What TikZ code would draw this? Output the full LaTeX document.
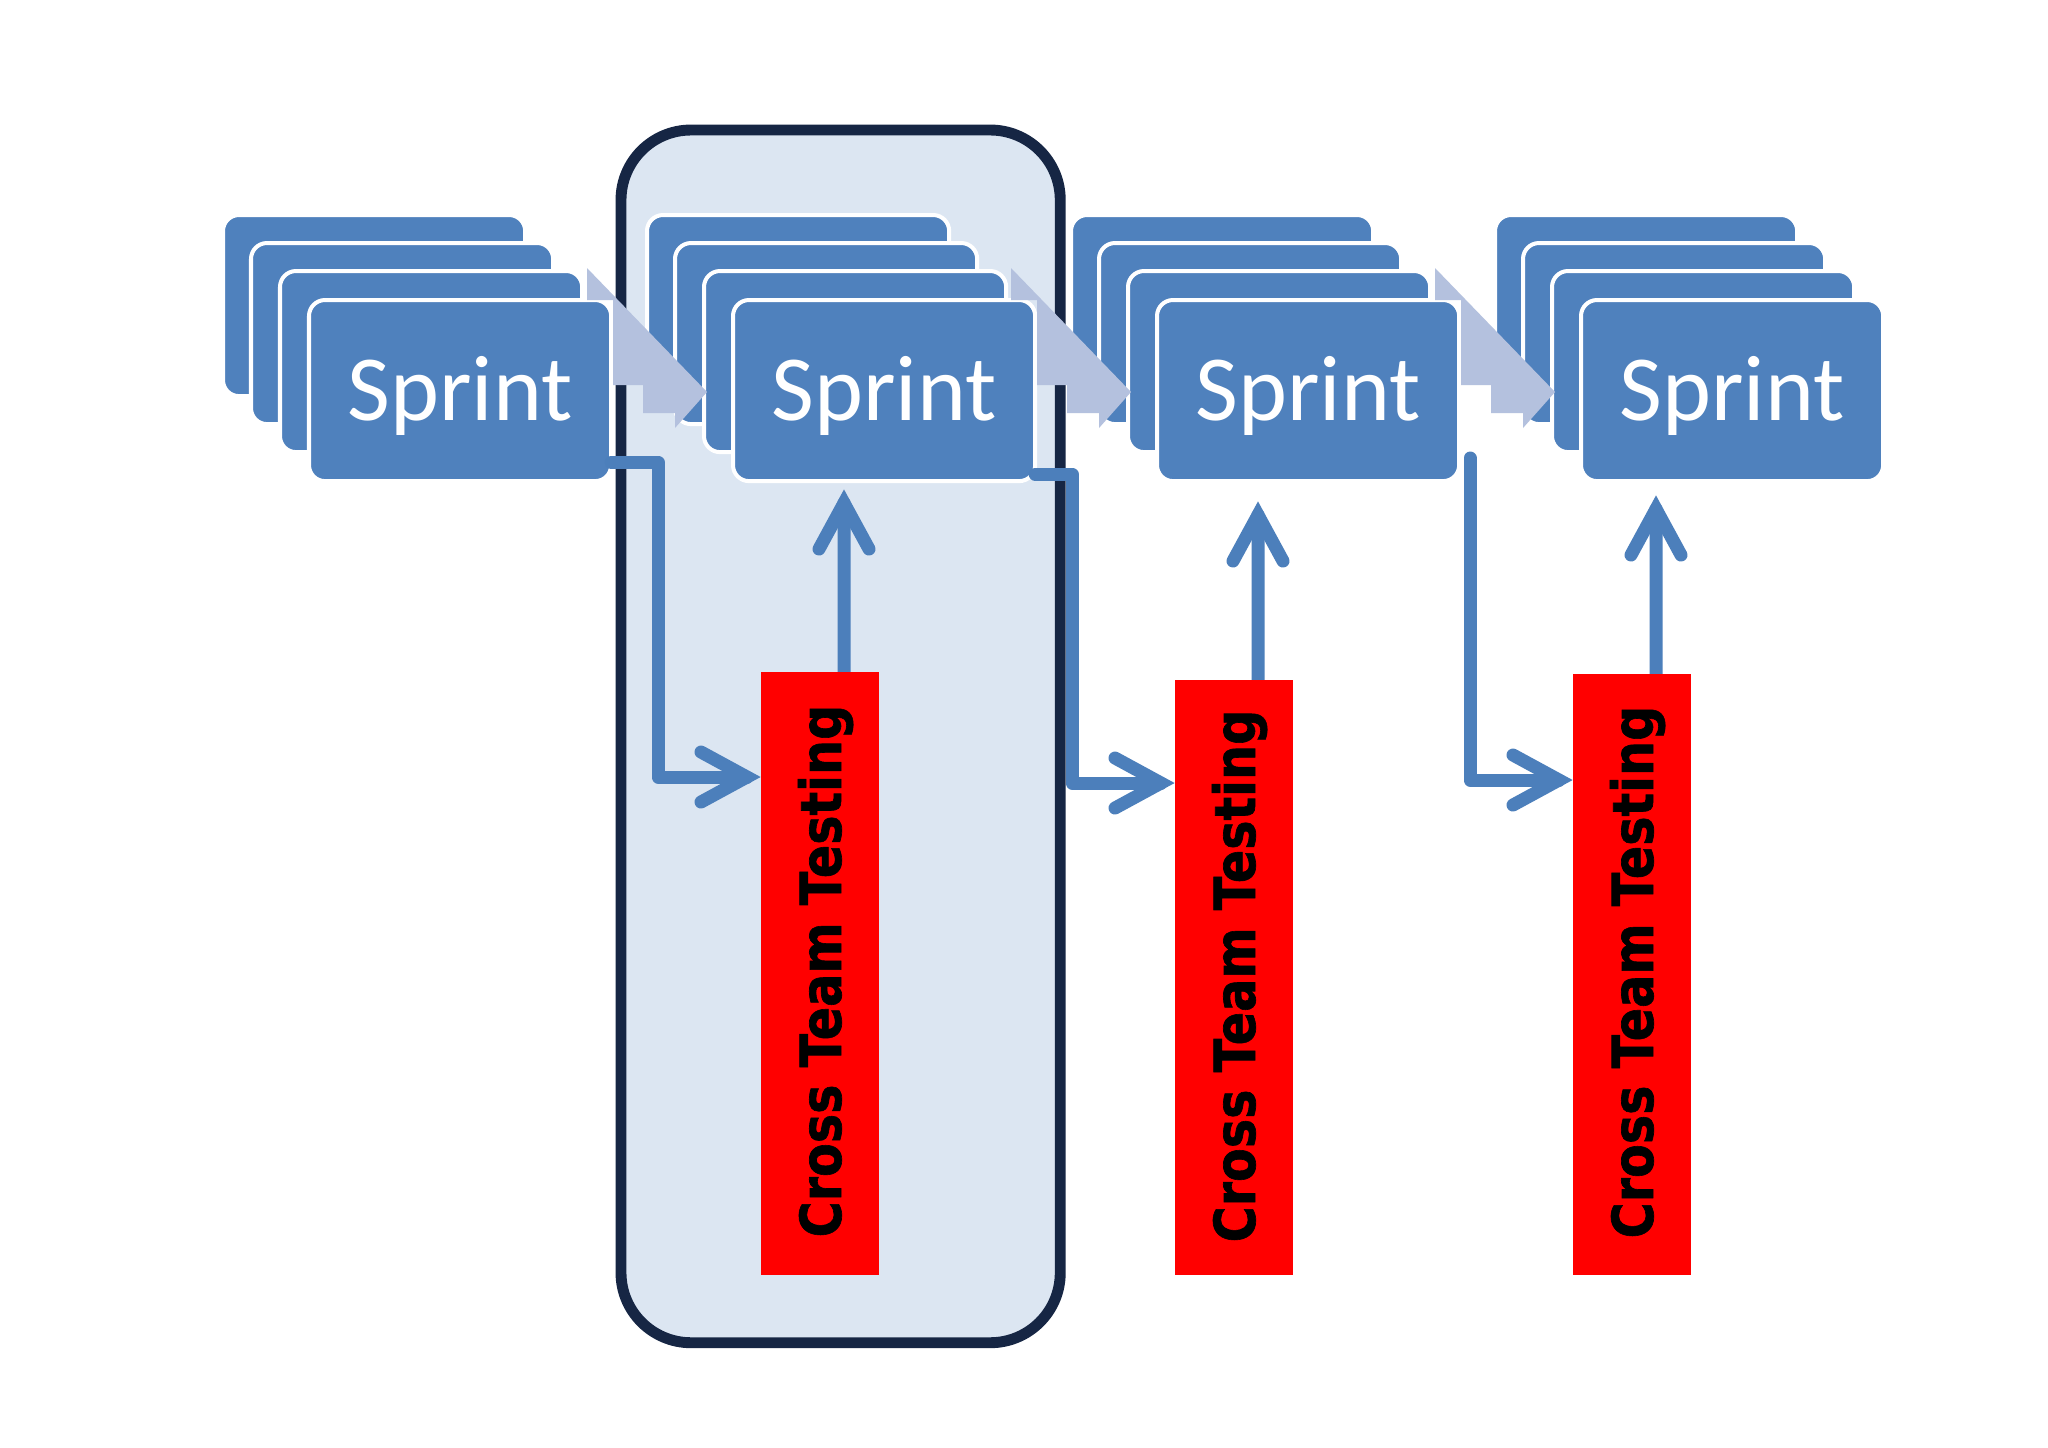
\documentclass[tikz,border=0pt]{standalone}
\usepackage{fontspec}
\usetikzlibrary{calc}
\newfontfamily\sprintfont{Carlito}
\newfontfamily\ctfont[FakeBold=1.2]{DejaVu Sans}
\definecolor{cardblue}{RGB}{79,129,189}
\definecolor{linkblue}{RGB}{76,127,187}
\definecolor{chevblue}{RGB}{180,193,222}
\definecolor{hlfill}{RGB}{220,230,242}
\definecolor{navy}{RGB}{22,38,68}
\definecolor{ctred}{RGB}{255,0,0}
\begin{document}
\begin{tikzpicture}[x=0.01cm,y=-0.01cm,
  card/.style={draw=white, line width=1.14pt, fill=cardblue, rounded corners=0.16cm,
    minimum width=3.02cm, minimum height=1.81cm, inner sep=0pt, outer sep=0pt, anchor=north west},
  sprinttxt/.style={text=white, font=\sprintfont\fontsize{26.5}{30}\selectfont, inner sep=0pt},
  hlbox/.style={draw=navy, line width=3.1pt, fill=hlfill, rounded corners=0.7cm,
    inner sep=0pt, outer sep=0pt, anchor=north west},
  redbox/.style={fill=ctred, minimum width=1.18cm, inner sep=0pt, outer sep=0pt, anchor=north west},
  cttxt/.style={rotate=90, anchor=base, inner sep=0pt, text=black,
    font=\ctfont\bfseries\fontsize{16.1}{18}\selectfont},
  chev/.style={fill=chevblue},
  conn/.style={draw=linkblue, line width=3.7pt, line cap=round, line join=round},
  head/.style={draw=linkblue, line width=3.7pt, line cap=round, line join=miter}
]
\useasboundingbox (0,0) rectangle (2048,1447);
\fill[white] (0,0) rectangle (2048,1447);

% highlight box
\node[hlbox, minimum width=4.39cm, minimum height=12.12cm] (hl) at (621,130) {};

% sprint groups
\foreach \g/\gx in {1/223,2/647,3/1071,4/1495}{
  \node[card] (g\g a) at (\gx,215) {};
  \node[card] (g\g b) at (\gx+28,243) {};
  \node[card] (g\g c) at (\gx+57,271) {};
  \node[card] (s\g) at (\gx+86,300) {};
  \node[sprinttxt, anchor=base] (st\g) at ($(s\g.center)+(0,30)$) {Sprint};
}

% chevron arrows between groups
\foreach \dx in {0,424,848}{
  \fill[chev] (587+\dx,268) -- (707+\dx,392) -- (675+\dx,428) -- (675+\dx,413)
    -- (643+\dx,413) -- (643+\dx,385) -- (613+\dx,385) -- (613+\dx,300)
    -- (587+\dx,300) -- cycle;
}

% red boxes
\node[redbox, minimum height=6.03cm] (r1) at (761,672) {};
\node[redbox, minimum height=5.95cm] (r2) at (1175,680) {};
\node[redbox, minimum height=6.01cm] (r3) at (1573,674) {};

% coordinates of arrow tips
\coordinate (u1) at (844,503);
\coordinate (u2) at (1258,515);
\coordinate (u3) at (1656,509);
\coordinate (h1) at (747,777);
\coordinate (h2) at (1161,783);
\coordinate (h3) at (1559,780);
\coordinate (c3) at (1470,458);

% up arrows
\draw[conn] ([xshift=0.24cm]r1.north) -- (u1);
\draw[head] ($(u1)+(-25,46)$) -- (u1) -- ($(u1)+(25,46)$);
\draw[conn] ([xshift=0.24cm]r2.north) -- (u2);
\draw[head] ($(u2)+(-25,46)$) -- (u2) -- ($(u2)+(25,46)$);
\draw[conn] ([xshift=0.24cm]r3.north) -- (u3);
\draw[head] ($(u3)+(-25,46)$) -- (u3) -- ($(u3)+(25,46)$);

% elbow connectors
\draw[conn] ([yshift=-0.715cm]s1.east) -| (658,777) -- (h1);
\draw[head] ($(h1)+(-46,-25)$) -- (h1) -- ($(h1)+(-46,25)$);
\draw[conn] ([yshift=-0.835cm]s2.east) -| (1072,783) -- (h2);
\draw[head] ($(h2)+(-46,-25)$) -- (h2) -- ($(h2)+(-46,25)$);
\draw[conn] (c3) -- (1470,780) -- (h3);
\draw[head] ($(h3)+(-46,-25)$) -- (h3) -- ($(h3)+(-46,25)$);

% red boxes again on top of shaft caps
\fill[ctred] (r1.north west) rectangle (r1.south east);
\fill[ctred] (r2.north west) rectangle (r2.south east);
\fill[ctred] (r3.north west) rectangle (r3.south east);

% texts
\node[cttxt] (t1) at (841,971) {\scalebox{0.87}[1]{Cross Team Testing}};
\node[cttxt] (t2) at (1255,976) {\scalebox{0.87}[1]{Cross Team Testing}};
\node[cttxt] (t3) at (1653,972) {\scalebox{0.87}[1]{Cross Team Testing}};
\end{tikzpicture}
\end{document}
